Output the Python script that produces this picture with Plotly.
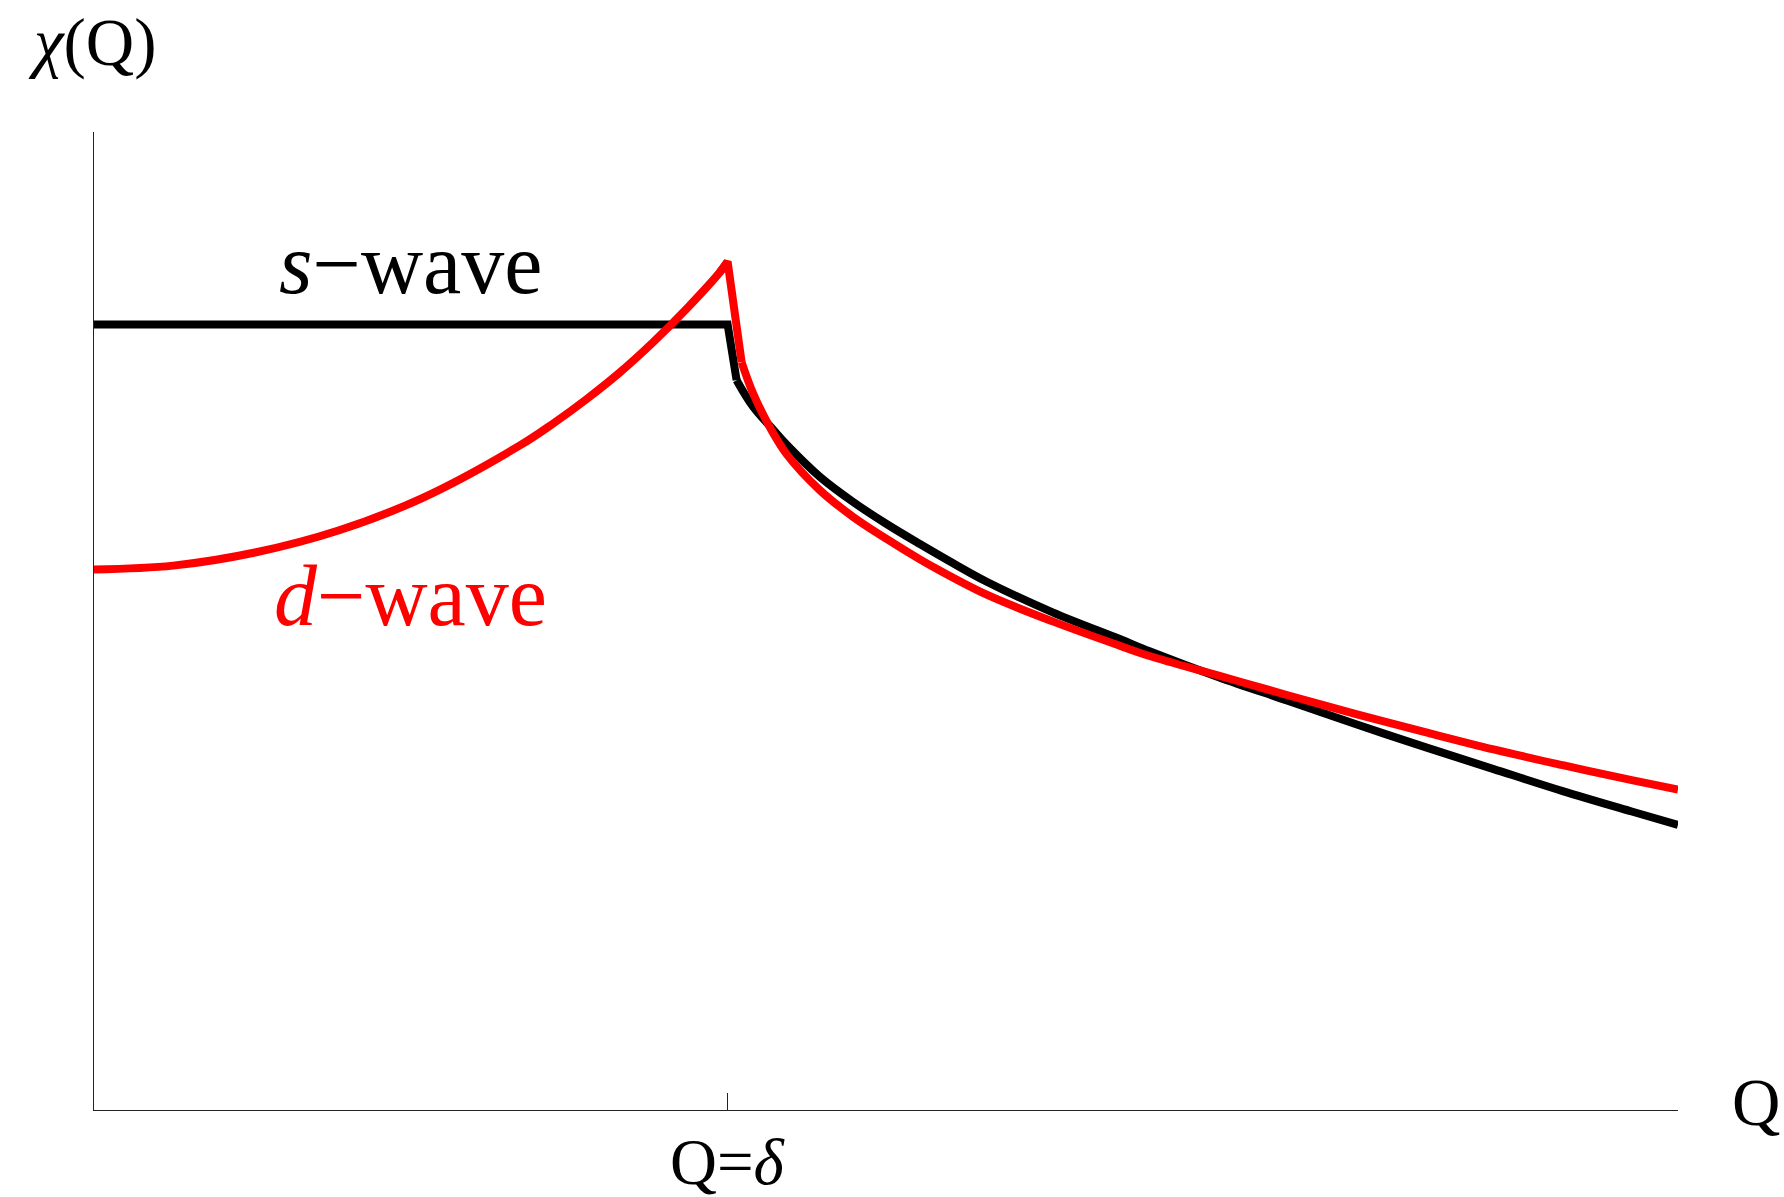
import plotly.graph_objects as go

# Q in units of delta; chi in arbitrary units (s-wave plateau = 1)
s_wave_q = [0.0, 1.0, 1.0142, 1.0404, 1.072, 1.0931, 1.1457, 1.1982, 1.2509, 1.3035,
            1.356, 1.409, 1.513, 1.619, 1.666, 1.775, 1.884, 1.992, 2.101, 2.209,
            2.318, 2.427, 2.5]
s_wave_chi = [1.0, 1.0, 0.929, 0.895, 0.866, 0.847, 0.806, 0.774, 0.746, 0.7205,
              0.696, 0.6725, 0.6335, 0.5995, 0.584, 0.551, 0.521, 0.491, 0.462, 0.434,
              0.406, 0.380, 0.363]

d_wave_q = [0.0, 0.125, 0.256, 0.387, 0.518, 0.6722, 0.7248, 0.7775, 0.830, 0.8826,
            0.9353, 0.9879, 1.0,
            1.0221, 1.0404, 1.0668, 1.0931, 1.1457, 1.1982, 1.2509, 1.3035, 1.3298,
            1.409, 1.513, 1.619, 1.666, 1.775, 1.884, 1.992, 2.101, 2.209, 2.318,
            2.427, 2.5]
d_wave_chi = [0.688, 0.693, 0.710, 0.738, 0.779, 0.846, 0.874, 0.905, 0.939, 0.9775,
              1.020, 1.0666, 1.080,
              0.952, 0.912, 0.869, 0.835, 0.789, 0.755, 0.727, 0.701, 0.689,
              0.656, 0.622, 0.591, 0.578, 0.553, 0.528, 0.504, 0.481, 0.459, 0.439,
              0.420, 0.408]

tick_vals = [1.0]
x_range = [0, 2.5]
y_range = [0, 1.245]

SERIF = "Liberation Serif, Times New Roman, serif"
BLACK = "#000000"
RED = "#FF0000"
LW = 8

fig = go.Figure()


def add_part(xs, ys, color, shape):
    line = dict(color=color, width=LW, shape=shape)
    if shape == "spline":
        line["smoothing"] = 1.0
    fig.add_trace(go.Scatter(x=xs, y=ys, mode="lines", line=line,
                             cliponaxis=False, showlegend=False, hoverinfo="skip"))


# s-wave: flat plateau, sharp kink at Q = delta, then smooth decay
add_part(s_wave_q[:3], s_wave_chi[:3], BLACK, "linear")
add_part(s_wave_q[2:], s_wave_chi[2:], BLACK, "spline")

# d-wave: smooth rise, sharp cusp at Q = delta, smooth decay
add_part(d_wave_q[:13], d_wave_chi[:13], RED, "spline")
add_part(d_wave_q[11:14], d_wave_chi[11:14], RED, "linear")
add_part(d_wave_q[13:], d_wave_chi[13:], RED, "spline")

fig.update_layout(
    width=1784, height=1197,
    margin=dict(l=94, r=106, t=132, b=87),
    paper_bgcolor="white", plot_bgcolor="white",
    font=dict(family=SERIF, color="black"),
    xaxis=dict(range=x_range, showgrid=False, zeroline=False, showline=True,
               linecolor="#222", linewidth=1.3, ticks="inside", ticklen=17,
               tickwidth=1.3, tickcolor="#222", tickvals=tick_vals,
               showticklabels=False, fixedrange=True),
    yaxis=dict(range=y_range, showgrid=False, zeroline=False, showline=True,
               linecolor="#222", linewidth=1.3, ticks="", showticklabels=False,
               fixedrange=True),
)

ann_font = dict(family=SERIF, size=67, color="black")
fig.add_annotation(text="<i>χ</i>(Q)", xref="paper", yref="paper",
                   x=0, y=1.0, xanchor="left", yanchor="bottom",
                   showarrow=False, font=ann_font, xshift=-68, yshift=50)
fig.add_annotation(text="Q=<i>δ</i>", xref="x", yref="paper", x=1.0, y=0,
                   xanchor="center", yanchor="top", showarrow=False,
                   font=dict(family=SERIF, size=65, color="black"), yshift=-14)
fig.add_annotation(text="Q", xref="paper", yref="paper", x=1.0, y=0,
                   xanchor="left", yanchor="middle", showarrow=False,
                   font=ann_font, xshift=52, yshift=8)
fig.add_annotation(text="<i>s</i>−wave", xref="x", yref="y", x=0.499, y=1.0,
                   xanchor="center", yanchor="bottom", showarrow=False,
                   font=dict(family=SERIF, size=86, color=BLACK), yshift=10)
fig.add_annotation(text="<i>d</i>−wave", xref="x", yref="y", x=0.499, y=0.688,
                   xanchor="center", yanchor="top", showarrow=False,
                   font=dict(family=SERIF, size=86, color=RED), yshift=24)

fig.write_html("out.html")
